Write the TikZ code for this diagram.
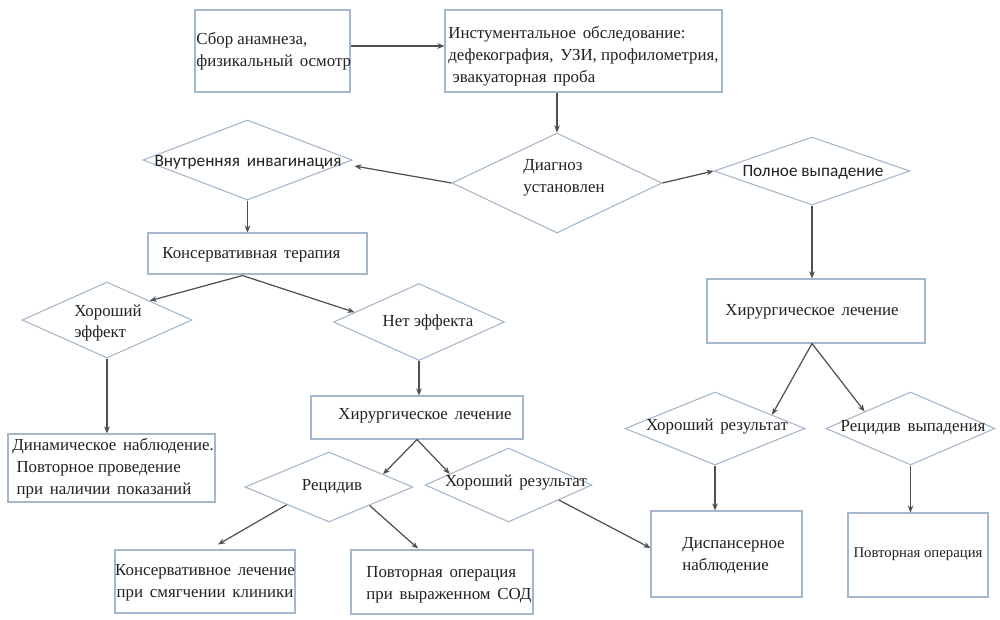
\documentclass[tikz,border=0pt]{standalone}
\usepackage{fontspec}
\setmainfont{Liberation Serif}
\newfontfamily\sansf{Carlito}
\usetikzlibrary{shapes.geometric,arrows.meta,calc}
\definecolor{bcol}{HTML}{A3B6CC}
\definecolor{lcol}{HTML}{505050}
\definecolor{tcol}{HTML}{222222}
\newcommand\ws{\hspace{0.4em}}
\begin{document}
\begin{tikzpicture}[x=0.02cm,y=-0.02cm,
  sz/.style 2 args={minimum width=#1*0.02cm, minimum height=#2*0.02cm},
  box/.style={draw=bcol, line width=0.6pt, inner sep=0pt, rectangle},
  dia/.style={draw=bcol, line width=0.6pt, inner sep=0pt, diamond},
  arr/.style={draw=lcol, line width=0.7pt, -{Stealth[length=4pt,width=3.2pt]}},
  txt/.style={font=\fontsize{9.6}{12.5}\selectfont, text=tcol, align=left, inner sep=0pt},
  stxt/.style={font=\sansf\fontsize{9.8}{12.5}\selectfont, text=tcol, align=center, inner sep=0pt}]
\fill[white] (0,0) rectangle (1000,619);
\useasboundingbox (0,0) rectangle (1000,619);

% boxes and diamonds
\node[box, sz={155}{82}] (A) at (272.5,51) {};
\node[txt, anchor=west] (tA) at (196,51) {Сбор анамнеза,\\физикальный\ws осмотр};
\node[box, sz={277}{82}] (B) at (583.5,51) {};
\node[txt, anchor=west] (tB) at (448,56) {Инстументальное\ws обследование:\\дефекография,\ws УЗИ, профилометрия,\\\ эвакуаторная\ws проба};

\node[dia, sz={210}{100}] (diag) at (557,183) {};
\node[txt] (tdiag) at (564,178) {Диагноз\\установлен};

\node[dia, sz={209}{80}] (invag) at (247.5,160) {};
\node[stxt] (tinvag) at (248,162) {Внутренняя\ws инвагинация};

\node[dia, sz={196}{68}] (poln) at (812,171) {};
\node[stxt] (tpoln) at (813,172) {Полное выпадение};

\node[box, sz={219}{41}] (kons) at (257.5,253.5) {};
\node[txt, anchor=west] (tkons) at (162,255) {Консервативная\ws терапия};

\node[dia, sz={170}{76}] (khef) at (107,320) {};
\node[txt] (tkhef) at (108,323) {Хороший\\эффект};

\node[dia, sz={171}{77}] (net) at (419,322) {};
\node[txt] (tnet) at (428,322) {Нет эффекта};

\node[box, sz={212}{43}] (khirL) at (417,417.5) {};
\node[txt] (tkhirL) at (425,416) {Хирургическое\ws лечение};

\node[box, sz={207}{68}] (dyn) at (111.5,468) {};
\node[txt, anchor=west] (tdyn) at (12,468) {Динамическое\ws наблюдение.\\\ Повторное проведение\\\ при\ws наличии\ws показаний};

\node[dia, sz={168}{70}] (rec) at (329,487) {};
\node[txt] (trec) at (332,487) {Рецидив};

\node[dia, sz={167}{74}] (khrM) at (508.5,485) {};
\node[txt] (tkhrM) at (516,483) {Хороший\ws результат};

\node[box, sz={180}{63}] (konsL) at (205,581.5) {};
\node[txt, align=center] (tkonsL) at (205,583) {Консервативное\ws лечение\\при\ws смягчении\ws клиники};

\node[box, sz={182}{64}] (povtL) at (442,582) {};
\node[txt, anchor=west] (tpovtL) at (366,585) {Повторная\ws операция\\при\ws выраженном\ws СОД};

\node[box, sz={218}{64}] (khirR) at (816,311) {};
\node[txt] (tkhirR) at (812,312) {Хирургическое\ws лечение};

\node[dia, sz={180}{73}] (khrR) at (715,428.5) {};
\node[txt] (tkhrR) at (717,427) {Хороший\ws результат};

\node[dia, sz={169}{73}] (recv) at (910.5,428.5) {};
\node[txt] (trecv) at (913,428) {Рецидив\ws выпадения};

\node[box, sz={151}{86}] (disp) at (726.5,554) {};
\node[txt, anchor=west] (tdisp) at (682,556) {Диспансерное\\наблюдение};

\node[box, sz={140}{84}] (povtR) at (918,555) {};
\node[txt, font=\fontsize{8.4}{10}\selectfont] (tpovtR) at (918,554) {Повторная операция};

% connectors
\draw[arr] ($(A.east)+(0,-5)$) -- ($(B.west)+(0,-5)$);
\draw[arr] (diag.north |- B.south) -- (diag.north);
\draw[arr] (diag.west) -- ($(invag.east)+(2,6)$);
\draw[arr] (diag.east) -- (poln.west);
\draw[arr] (invag.south) -- (invag.south |- kons.north);
\draw[arr] ($(kons.south)+(-15,1)$) -- (khef.north east);
\draw[arr] ($(kons.south)+(-15,1)$) -- ($(net.west)!0.25!(net.north)$);
\draw[arr] (khef.south) -- (khef.south |- dyn.north);
\draw[arr] (net.south) -- (net.south |- khirL.north);
\draw[arr] (khirL.south) -- ($(rec.north)!0.64!(rec.east)$);
\draw[arr] (khirL.south) -- ($(khrM.west)!0.3!(khrM.north)$);
\draw[arr] ($(rec.west)!0.5!(rec.south)$) -- ($(konsL.north)+(13,-5)$);
\draw[arr] ($(rec.south)!0.48!(rec.east)$) -- ($(povtL.north)+(-24,-1)$);
\draw[arr] ($(khrM.south)!0.6!(khrM.east)$) -- ($(disp.west)+(0,-6)$);
\draw[arr] (poln.south) -- (poln.south |- khirR.north);
\draw[arr] ($(khirR.south)+(-4,0)$) -- ($(khrR.north)!0.63!(khrR.east)$);
\draw[arr] ($(khirR.south)+(-4,0)$) -- ($(recv.west)!0.46!(recv.north)$);
\draw[arr] (khrR.south) -- (khrR.south |- disp.north);
\draw[arr] (recv.south) -- (recv.south |- povtR.north);
\end{tikzpicture}
\end{document}
